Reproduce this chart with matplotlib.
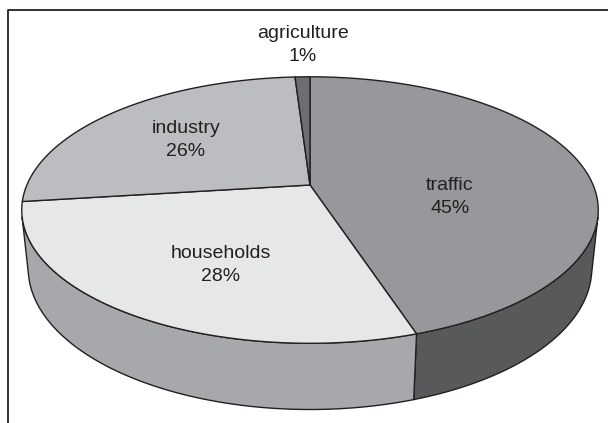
import matplotlib
matplotlib.use("Agg")
import matplotlib.pyplot as plt
import numpy as np
from matplotlib.patches import Polygon

# data (clockwise from 12 o'clock)
categories = ["traffic", "households", "industry", "agriculture"]
shares = [45, 28, 26, 1]
top_colors = ["#97989b", "#e6e7e9", "#bcbdc0", "#6d6e71"]
side_colors = ["#58595b", "#a7a8ab", "#8a8b8e", "#4a4b4d"]
label_pos = [(450, 197), (221, 265), (186, 140), (303, 45)]

# simple perspective camera for the 3-D pie (pixel space)
cx, cy = 310, 185
elev = np.radians(27)
dist = 4.74
focal = 1342
thick = 0.233
ink = "#231f20"


def proj(theta, z):
    x, y = np.cos(theta), np.sin(theta)
    Y = y * np.sin(elev) + z * np.cos(elev)
    W = dist + y * np.cos(elev) - z * np.sin(elev)
    return cx + focal * x / W, cy - focal * Y / W


fig = plt.figure(figsize=(6.08, 4.23), dpi=100)
ax = fig.add_axes([0, 0, 1, 1])
ax.set_xlim(0, 608)
ax.set_ylim(423, 0)
ax.axis("off")

# frame
ax.plot([8, 8, 620], [440, 10, 10], color=ink, lw=1.3, solid_capstyle="butt")

fracs = np.array(shares) / sum(shares)
ends = np.pi / 2 - 2 * np.pi * np.cumsum(fracs)
starts = np.concatenate([[np.pi / 2], ends[:-1]])

# visible part of the outer wall
s = -1 / (dist * np.cos(elev))
vis_a = np.pi + np.arcsin(-s)
vis_b = 2 * np.pi - np.arcsin(-s)

for a0, a1, col in zip(starts, ends, side_colors):
    lo, hi = min(a0, a1), max(a0, a1)
    # wrap to [0, 2pi)
    for shift in (0, 2 * np.pi, -2 * np.pi):
        l, h = max(lo + shift, vis_a), min(hi + shift, vis_b)
        if h > l:
            t = np.linspace(l, h, 80)
            xt, yt = proj(t, 0)
            xb, yb = proj(t[::-1], -thick)
            pts = np.column_stack([np.r_[xt, xb], np.r_[yt, yb]])
            ax.add_patch(Polygon(pts, closed=True, fc=col, ec=ink, lw=1.0))

for a0, a1, col in zip(starts, ends, top_colors):
    t = np.linspace(a0, a1, 150)
    xt, yt = proj(t, 0)
    pts = np.column_stack([np.r_[cx, xt], np.r_[cy, yt]])
    ax.add_patch(Polygon(pts, closed=True, fc=col, ec=ink, lw=1.0, joinstyle="round"))

for name, pct, (lx, ly) in zip(categories, shares, label_pos):
    ax.text(lx, ly, f"{name}\n{pct}%", ha="center", va="center",
            fontsize=14, family="Liberation Sans", color=ink, linespacing=1.5)

fig.savefig("out.png", dpi=100)
